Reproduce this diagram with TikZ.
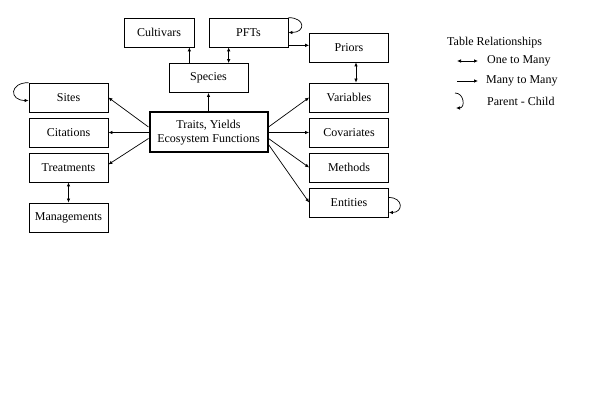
\documentclass[tikz,border=0pt]{standalone}
\usepackage{fontspec}
\setmainfont{Liberation Serif}
\usetikzlibrary{arrows.meta,positioning,calc}
\begin{document}
\begin{tikzpicture}[x=1pt,y=-1pt,
  every node/.style={font=\fontsize{12}{14.5}\selectfont},
  tbl/.style={draw,line width=0.7pt,minimum width=79pt,minimum height=29pt,inner sep=0pt,align=center},
  main/.style={tbl,line width=2pt,minimum width=118pt,minimum height=40pt},
  sgl/.style={line width=0.7pt,-{Latex[length=4pt,width=3.5pt]}},
  dbl/.style={line width=0.7pt,{Latex[length=4pt,width=3.5pt]}-{Latex[length=4pt,width=3.5pt]}},
  lbl/.style={anchor=west,inner sep=0pt}]
  \useasboundingbox (0,0) rectangle (597,419);
  \node[tbl,minimum width=70pt] (cult) at (159,32.5) {Cultivars};
  \node[tbl] (pft) at (248.5,32.5) {PFTs};
  \node[tbl] (species) at (208.5,78) {Species};
  \node[main] (traits) at (208.5,132.5) {Traits, Yields\\Ecosystem Functions};
  \node[tbl] (sites) at (68.5,97.5) {Sites};
  \node[tbl] (cit) at (68.5,132.5) {Citations};
  \node[tbl] (treat) at (68.5,167.5) {Treatments};
  \node[tbl] (manage) at (68.5,217.5) {Managements};
  \node[tbl] (priors) at (349,47.5) {Priors};
  \node[tbl] (vars) at (349,97.5) {Variables};
  \node[tbl] (covar) at (349,132.5) {Covariates};
  \node[tbl] (meth) at (349,167.5) {Methods};
  \node[tbl] (ent) at (349,202.5) {Entities};
  \coordinate (cs) at ([xshift=-5pt]cult.south east);
  \coordinate (ps) at ([xshift=20pt]pft.south west);
  \coordinate (pe) at ([yshift=2pt]pft.south east);
  \coordinate (pv) at ([xshift=7pt]priors.south);
  \draw[sgl] (traits) -- (species);
  \draw[sgl] (species.north -| cs) -- (cs);
  \draw[dbl] (species.north -| ps) -- (ps);
  \draw[sgl] (pe) -- (pe -| priors.west);
  \draw[dbl] (pv) -- (pv |- vars.north);
  \draw[dbl] (treat) -- (manage);
  \draw[sgl] ([yshift=5.5pt]traits.west) -- (sites.east);
  \draw[sgl] (traits.west) -- (cit.east);
  \draw[sgl] ([yshift=-6pt]traits.west) -- ([yshift=3pt]treat.east);
  \draw[sgl] ([yshift=5.5pt]traits.east) -- (vars.west);
  \draw[sgl] (traits.east) -- (covar.west);
  \draw[sgl] ([yshift=-6pt]traits.east) -- (meth.west);
  \draw[sgl] ([yshift=-12pt]traits.east) -- (ent.west);
  \draw[sgl] (pft.north east) to[out=0,in=0,looseness=3] (pft.east);
  \draw[sgl] (sites.north west) to[out=180,in=180,looseness=2.8] ([yshift=-3pt]sites.west);
  \draw[sgl] ([yshift=5pt]ent.east) to[out=0,in=0,looseness=2.5] ([yshift=-10pt]ent.east);
  \node[lbl] (legend) at (447,43) {Table Relationships};
  \node[lbl] (onemany) at (487,61) {One to Many};
  \node[lbl] (manymany) at (486,81) {Many to Many};
  \node[lbl] (parent) at (487,101) {Parent - Child};
  \coordinate (k1) at (457,61);
  \coordinate (k3) at (455,93);
  \coordinate (k3e) at (456,108);
  \draw[dbl] (k1) -- ([xshift=-9pt]onemany.west);
  \draw[sgl] (manymany.west -| k1) -- ([xshift=-8pt]manymany.west);
  \draw[sgl] (k3) to[out=0,in=0,looseness=1.6] (k3e);
\end{tikzpicture}
\end{document}
